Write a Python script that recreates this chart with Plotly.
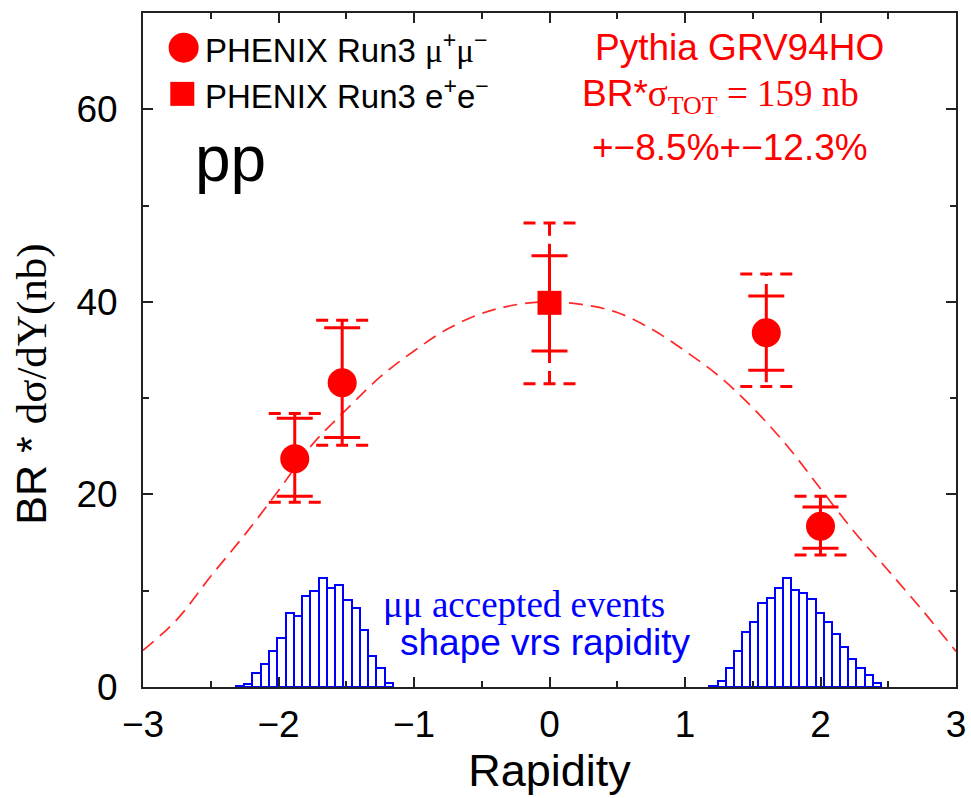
import plotly.graph_objects as go

# ---- J/psi -> mu+mu- points (forward/backward arms) ----
mu_x = [-1.88, -1.53, 1.60, 2.00]
mu_y = [23.7, 31.6, 36.8, 16.7]
mu_stat_up = [27.9, 37.3, 40.6, 18.7]
mu_stat_dn = [19.8, 25.9, 32.9, 14.4]
mu_sys_up = [28.4, 38.1, 42.9, 19.8]
mu_sys_dn = [19.2, 25.1, 31.2, 13.7]

# ---- J/psi -> e+e- point (central arm) ----
ee_x = [0.0]
ee_y = [39.9]
ee_stat_up = [44.8]
ee_stat_dn = [34.9]
ee_sys_up = [48.2]
ee_sys_dn = [31.5]

# ---- Pythia GRV94HO prediction ----
pythia_y = [-3.0, -2.75, -2.5, -2.25, -2.0, -1.75, -1.5, -1.25, -1.0, -0.75, -0.5, -0.25,
            0.0, 0.25, 0.5, 0.75, 1.0, 1.25, 1.5, 1.75, 2.0, 2.25, 2.5, 2.75, 3.0]
pythia_val = [3.8, 7.0, 11.5, 15.8, 20.4, 25.2, 28.8, 32.2, 34.9, 37.2, 38.8, 39.7,
              40.0, 39.7, 38.9, 37.2, 34.9, 32.3, 29.0, 25.1, 20.6, 16.1, 12.1, 8.0, 3.7]

# ---- accepted mu-mu events vs rapidity (arbitrary normalisation) ----
south_lo, south_bin = -2.314, 0.061
south_counts = [0.07, 0.28, 1.45, 2.42, 3.71, 5.06, 7.72, 7.38, 9.42, 9.94, 11.32,
                10.29, 10.63, 9.07, 8.24, 5.89, 3.19, 1.94, 0.42]
north_lo, north_bin = 1.18, 0.0603
north_counts = [0.10, 0.59, 1.97, 3.70, 5.71, 6.75, 8.76, 9.28, 10.29, 11.32, 10.11,
                9.77, 9.11, 7.72, 6.75, 5.54, 4.16, 2.94, 1.97, 1.28, 0.45]

X_RANGE = [-3, 3]
Y_RANGE = [0, 70]
W, H = 971, 798
M = dict(l=143, r=15, t=13, b=111)

RED = "#ff0000"
BLUE = "#0000ff"
SANS = "Liberation Sans, Arial, sans-serif"
SERIF = "Liberation Serif, Times New Roman, serif"

px_per_x = (W - M["l"] - M["r"]) / (X_RANGE[1] - X_RANGE[0])

fig = go.Figure()

# histograms of accepted events
for lo, bw, counts in [(south_lo, south_bin, south_counts), (north_lo, north_bin, north_counts)]:
    centers = [lo + bw * (i + 0.5) for i in range(len(counts))]
    fig.add_trace(go.Bar(
        x=centers, y=counts, width=bw,
        marker=dict(color="white", line=dict(color=BLUE, width=2)),
        showlegend=False, hoverinfo="skip"))

# Pythia curve
fig.add_trace(go.Scatter(
    x=pythia_y, y=pythia_val, mode="lines",
    line=dict(color="rgb(255,40,40)", width=1.7, dash="14px,8px", shape="spline"),
    showlegend=False, hoverinfo="skip"))


def sys_segments(xs, ys_up, ys_dn, st_up, st_dn, half_px=26):
    """Dashed systematic-error caps plus the dashed stems beyond the stat bars."""
    hx = half_px / px_per_x
    sx, sy = [], []
    for x, up, dn, su, sd in zip(xs, ys_up, ys_dn, st_up, st_dn):
        sx += [x - hx, x + hx, None, x - hx, x + hx, None, x, x, None, x, x, None]
        sy += [up, up, None, dn, dn, None, su, up, None, sd, dn, None]
    return sx, sy


for xs, ys_up, ys_dn, su, sd in [(mu_x, mu_sys_up, mu_sys_dn, mu_stat_up, mu_stat_dn),
                                 (ee_x, ee_sys_up, ee_sys_dn, ee_stat_up, ee_stat_dn)]:
    sx, sy = sys_segments(xs, ys_up, ys_dn, su, sd)
    fig.add_trace(go.Scatter(
        x=sx, y=sy, mode="lines",
        line=dict(color=RED, width=3, dash="12px,8px"),
        showlegend=False, hoverinfo="skip"))

# data points with statistical errors
fig.add_trace(go.Scatter(
    x=mu_x, y=mu_y, mode="markers",
    marker=dict(symbol="circle", size=29, color=RED, line=dict(width=0)),
    error_y=dict(type="data", symmetric=False,
                 array=[u - y for u, y in zip(mu_stat_up, mu_y)],
                 arrayminus=[y - d for y, d in zip(mu_y, mu_stat_dn)],
                 color=RED, thickness=3, width=18),
    name="PHENIX Run3 mu+mu-", showlegend=False))
fig.add_trace(go.Scatter(
    x=ee_x, y=ee_y, mode="markers",
    marker=dict(symbol="square", size=24, color=RED, line=dict(width=0)),
    error_y=dict(type="data", symmetric=False,
                 array=[u - y for u, y in zip(ee_stat_up, ee_y)],
                 arrayminus=[y - d for y, d in zip(ee_y, ee_stat_dn)],
                 color=RED, thickness=3, width=18),
    name="PHENIX Run3 e+e-", showlegend=False))

# legend symbols
shapes = [
    dict(type="circle", xref="x", yref="y", xsizemode="pixel", ysizemode="pixel",
         xanchor=-2.70, yanchor=66.4, x0=-15, x1=15, y0=-15, y1=15,
         fillcolor=RED, line=dict(width=0)),
    dict(type="rect", xref="x", yref="y", xsizemode="pixel", ysizemode="pixel",
         xanchor=-2.71, yanchor=61.6, x0=-12, x1=12, y0=-12, y1=12,
         fillcolor=RED, line=dict(width=0)),
]


def sf(t):
    return f"<span style='font-family:{SERIF}'>{t}</span>"


annotations = [
    dict(x=-2.56, y=66.4, xanchor="left", yanchor="middle",
         text="PHENIX Run3 " + sf("μ") + "<sup>+</sup>" + sf("μ") + "<sup>−</sup>",
         font=dict(family=SANS, size=33, color="black")),
    dict(x=-2.56, y=61.6, xanchor="left", yanchor="middle",
         text="PHENIX Run3 e<sup>+</sup>e<sup>−</sup>",
         font=dict(family=SANS, size=33, color="black")),
    dict(x=-2.63, y=54.8, xanchor="left", yanchor="middle", text="pp",
         font=dict(family=SANS, size=64, color="black")),
    dict(x=1.40, y=66.4, xanchor="center", yanchor="middle", text="Pythia GRV94HO",
         font=dict(family=SANS, size=37, color=RED)),
    dict(x=1.26, y=61.3, xanchor="center", yanchor="middle",
         text="BR*" + sf("σ<sub>TOT</sub> = 159 nb"),
         font=dict(family=SANS, size=37, color=RED)),
    dict(x=1.33, y=56.0, xanchor="center", yanchor="middle", text="+−8.5%+−12.3%",
         font=dict(family=SANS, size=37, color=RED)),
    dict(x=-0.19, y=8.6, xanchor="center", yanchor="middle", text="μμ accepted events",
         font=dict(family=SERIF, size=37, color=BLUE)),
    dict(x=-0.03, y=4.6, xanchor="center", yanchor="middle", text="shape vrs rapidity",
         font=dict(family=SANS, size=37, color=BLUE)),
]
for a in annotations:
    a.update(xref="x", yref="y", showarrow=False)

# y-axis title, placed beside the tick labels
annotations.append(dict(
    xref="paper", yref="y", x=0, y=31.4, xshift=-111, xanchor="center", yanchor="middle",
    textangle=-90, showarrow=False,
    text="BR * " + sf("dσ/dY(nb)"),
    font=dict(family=SANS, size=43, color="black")))

axis_common = dict(
    automargin=False,
    showline=True, linecolor="#222", linewidth=2, mirror="ticks",
    ticks="inside", ticklen=10, tickwidth=2, tickcolor="#222",
    showgrid=False, zeroline=False,
    tickfont=dict(family=SANS, size=37, color="black"),
)

fig.update_layout(
    width=W, height=H, margin=M,
    paper_bgcolor="white", plot_bgcolor="white",
    barmode="overlay", bargap=0,
    shapes=shapes, annotations=annotations,
    xaxis=dict(range=X_RANGE, dtick=1, tickformat="d", ticklabelstandoff=4,
               minor=dict(dtick=0.5, ticks="inside", ticklen=6, tickwidth=2, tickcolor="#222"),
               title=dict(text="Rapidity", font=dict(family=SANS, size=45, color="black"), standoff=6),
               **axis_common),
    yaxis=dict(range=Y_RANGE, dtick=20, ticklabelstandoff=16,
               minor=dict(dtick=10, ticks="inside", ticklen=6, tickwidth=2, tickcolor="#222"),
               **axis_common),
)

fig.write_html("out.html")
